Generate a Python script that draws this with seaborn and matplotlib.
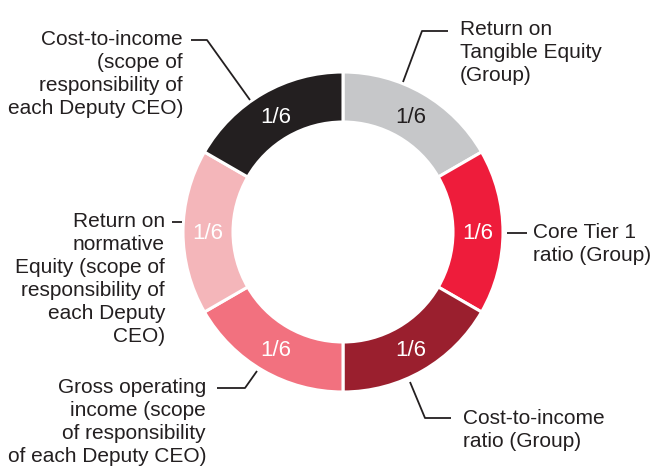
import numpy as np
import matplotlib
matplotlib.use('Agg')
import matplotlib.pyplot as plt
import seaborn as sns

####################################
# criteria, clockwise from 12 o'clock
criteria = [
    'Return on\nTangible Equity\n(Group)',
    'Core Tier 1\nratio (Group)',
    'Cost-to-income\nratio (Group)',
    'Gross operating\nincome (scope\nof responsibility\nof each Deputy CEO)',
    'Return on\nnormative\nEquity (scope of\nresponsibility of\neach Deputy\nCEO)',
    'Cost-to-income\n(scope of\nresponsibility of\neach Deputy CEO)',
]
weights = [1, 1, 1, 1, 1, 1]
weight_labels = ['1/6', '1/6', '1/6', '1/6', '1/6', '1/6']

colors = ['#c6c7c9', '#ee1c3b', '#9a1f2e', '#f2717f', '#f4b6ba', '#231f20']
value_text = ['#231f20', 'white', 'white', 'white', 'white', 'white']
####################################

W, H = 654, 473
cx, cy = 343, H - 232
R, ring = 160, 50
dark = '#231f20'

sns.set_theme(style='white')
plt.rcParams['font.family'] = ['Liberation Sans', 'DejaVu Sans']

fig = plt.figure(figsize=(W / 100, H / 100), dpi=100)
ax = fig.add_axes([0, 0, 1, 1])

wedges, _ = ax.pie(weights, colors=colors, startangle=90, counterclock=False,
                   radius=R, center=(cx, cy),
                   wedgeprops=dict(width=ring, edgecolor='white', linewidth=2.2))
ax.set_xlim(0, W)
ax.set_ylim(0, H)
ax.set_aspect('equal')
ax.axis('off')

# value inside each wedge
for w, lab, tc in zip(wedges, weight_labels, value_text):
    mid = np.deg2rad((w.theta1 + w.theta2) / 2)
    r = R - ring / 2
    ax.text(cx + r * np.cos(mid), cy + r * np.sin(mid) - 2, lab, color=tc,
            fontsize=16, ha='center', va='center')

# leader lines (image coords, y down) and label anchors
leaders = [
    [(403, 82), (422, 31), (448, 31)],
    [(507, 233), (527, 233)],
    [(410, 382), (425, 418), (451, 418)],
    [(257, 371), (245, 388), (217, 388)],
    [(182, 222), (172, 222)],
    [(250, 100), (207, 40), (191, 40)],
]
anchors = [
    (460, 20, 'left'),
    (533, 223, 'left'),
    (463, 409, 'left'),
    (206, 378, 'right'),
    (165, 212, 'right'),
    (183, 30, 'right'),
]

for pts, (tx, ty, ha), txt in zip(leaders, anchors, criteria):
    xs = [p[0] for p in pts]
    ys = [H - p[1] for p in pts]
    ax.plot(xs, ys, color=dark, lw=1.3, solid_capstyle='butt')
    ax.text(tx, H - ty, txt, ha=ha, va='top', multialignment=ha,
            fontsize=15, color=dark, linespacing=1.27)

plt.savefig('out.png', dpi=100)
